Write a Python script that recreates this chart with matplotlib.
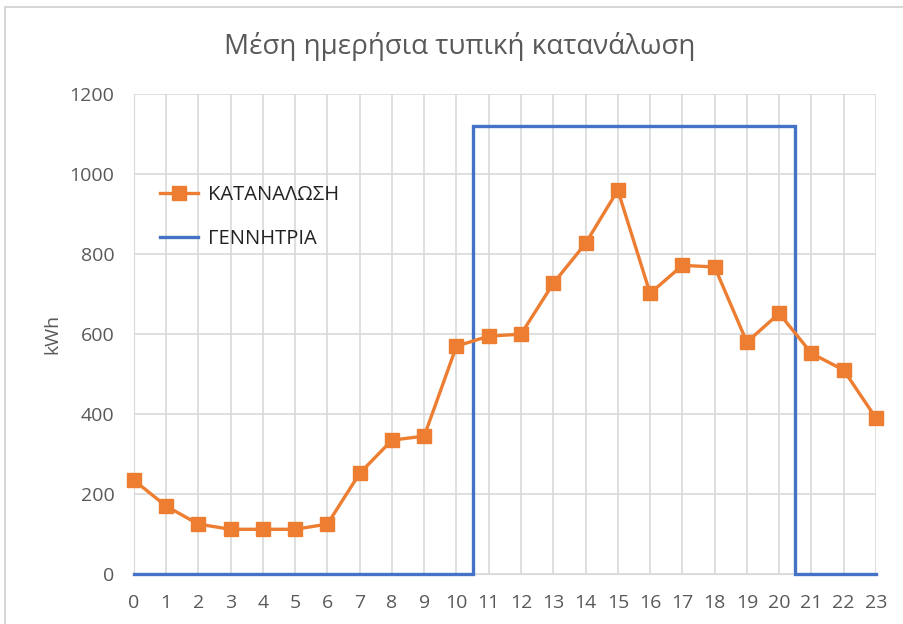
import numpy as np
import matplotlib.pyplot as plt
from matplotlib.patches import Rectangle

plt.rcParams['font.family'] = ['Open Sans', 'DejaVu Sans']

hours = list(range(24))
consumption = [235, 170, 125, 112, 112, 112, 125, 252, 335, 345, 570, 595,
               600, 727, 827, 960, 702, 772, 768, 580, 652, 552, 510, 390]
# generator output: step edges at the half hours
gen_x = [0, 10.5, 10.5, 20.5, 20.5, 23]
gen_y = [0, 0, 1120, 1120, 0, 0]

orange = '#ED7D31'
blue = '#4472C4'
grey = '#595959'
grid = '#D9D9D9'

fig = plt.figure(figsize=(9.04, 6.24), dpi=100)
ax = fig.add_axes([0.148, 0.080, 0.821, 0.769])

# chart frame
fig.patches.append(Rectangle((5 / 904, -0.1), 1.2, 1.1 - 7 / 624,
                             transform=fig.transFigure, fill=False,
                             edgecolor='#D0D0D0', linewidth=1.2))

ax.plot(gen_x, gen_y, color=blue, linewidth=2.4, label='ΓΕΝΝΗΤΡΙΑ',
        zorder=3, solid_joinstyle='miter', clip_on=False)
ax.plot(hours, consumption, color=orange, linewidth=2.4, marker='s',
        markersize=10, label='ΚΑΤΑΝΑΛΩΣΗ', zorder=4, clip_on=False)

ax.set_xlim(0, 23)
ax.set_ylim(0, 1200)
ax.set_xticks(hours)
ax.set_yticks(range(0, 1201, 200))
ax.grid(True, color=grid, linewidth=1.2)
ax.set_axisbelow(True)
for s in ax.spines.values():
    s.set_visible(False)
ax.spines['left'].set_visible(True)
ax.spines['left'].set_color(grid)
ax.spines['bottom'].set_visible(True)
ax.spines['bottom'].set_color(grid)
ax.tick_params(length=0, labelsize=14, labelcolor=grey)
ax.tick_params(axis='x', pad=14)
ax.tick_params(axis='y', pad=14)
ax.set_ylabel('kWh', fontsize=14, color=grey, labelpad=6)

fig.text(0.509, 0.925, 'Μέση ημερήσια τυπική κατανάλωση', fontsize=20,
         color=grey, ha='center', va='center')

handles, labels = ax.get_legend_handles_labels()
ax.legend(handles[::-1], labels[::-1], loc='upper left',
          bbox_to_anchor=(0.035, 0.81), frameon=False, fontsize=14.5,
          handlelength=1.9, handletextpad=0.5, labelspacing=1.15,
          borderpad=0, borderaxespad=0, labelcolor='#222222')

fig.savefig('out.png', dpi=100)
